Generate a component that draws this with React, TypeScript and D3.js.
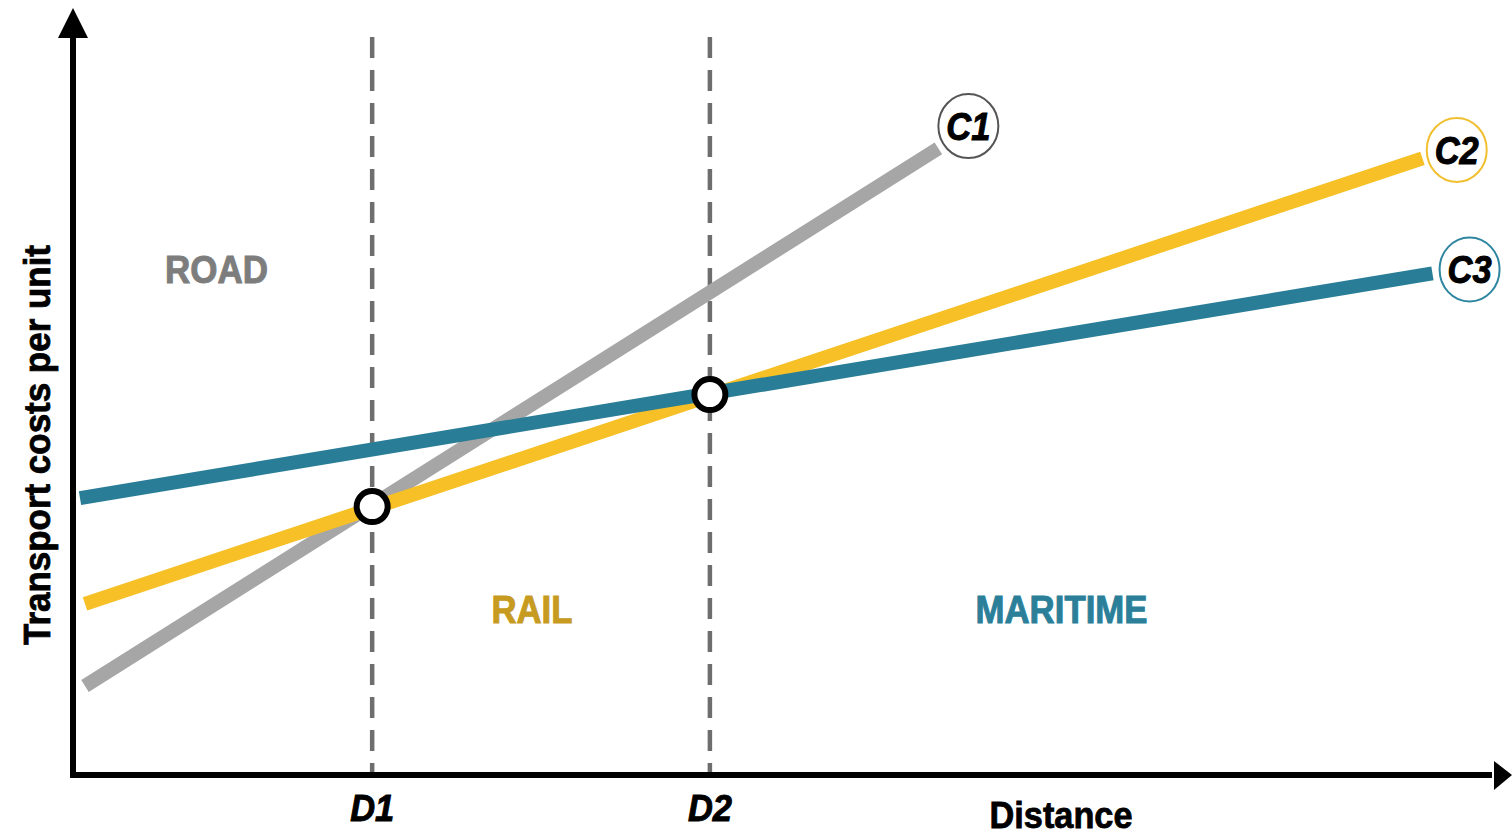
import React from "react";
import * as d3 from "d3";

const W = 1512;
const H = 836;

// Data (distance units 0-100, cost units 0-100)
const breakPoints = [
  { name: "D1", x: 20.95 },
  { name: "D2", x: 44.6 },
];
const seriesNames = ["C1", "C2", "C3"];
const seriesStart = [
  [0.84, 11.6],
  [0.84, 22.3],
  [0.49, 36.1],
];
const seriesEnd = [
  [60.6, 81.7],
  [94.5, 80.4],
  [95.2, 65.4],
];
const seriesColors = ["#a6a6a6", "#f6c026", "#2a7d97"];
const labelStroke = ["#555555", "#f0c030", "#2e86a0"];
const intersections = [
  [20.95, 35.0],
  [44.6, 49.6],
];
const labelPositions = [
  [62.7, 84.6],
  [96.9, 81.5],
  [97.8, 65.9],
];
const zoneLabels = [
  { text: "ROAD", x: 6.44, y: 66, color: "#7d7d7d", width: 103 },
  { text: "RAIL", x: 29.3, y: 21.7, color: "#c69b1f", width: 81 },
  { text: "MARITIME", x: 63.2, y: 21.7, color: "#2b7f99", width: 172 },
];

const FONT = "'Liberation Sans Narrow', 'Arial Narrow', 'Liberation Sans', Arial, sans-serif";

export default function App() {
  const x = d3.scaleLinear().domain([0, 100]).range([73, 1501]);
  const y = d3.scaleLinear().domain([0, 100]).range([775, 8]);
  const line = d3
    .line<number[]>()
    .x((d) => x(d[0]))
    .y((d) => y(d[1]));

  return (
    <svg
      width={W}
      height={H}
      style={{ position: "absolute", left: 0, top: 0, background: "#fff" }}
    >
      {/* dashed verticals */}
      {breakPoints.map((b) => (
        <line
          key={b.name}
          x1={x(b.x)}
          x2={x(b.x)}
          y1={37}
          y2={775}
          stroke="#6e6e6e"
          strokeWidth={4.5}
          strokeDasharray="21 12"
        />
      ))}
      {/* series lines */}
      {seriesNames.map((n, i) => (
        <path
          key={n}
          d={line([seriesStart[i], seriesEnd[i]]) || ""}
          stroke={seriesColors[i]}
          strokeWidth={14}
          fill="none"
          strokeLinecap="butt"
        />
      ))}
      {/* intersection circles */}
      {intersections.map((p, i) => (
        <circle
          key={i}
          cx={x(p[0])}
          cy={y(p[1])}
          r={15.5}
          fill="#fff"
          stroke="#000"
          strokeWidth={6}
        />
      ))}
      {/* series labels */}
      {seriesNames.map((n, i) => (
        <g key={n}>
          <ellipse
            cx={x(labelPositions[i][0])}
            cy={y(labelPositions[i][1])}
            rx={30}
            ry={32}
            fill="#fff"
            stroke={labelStroke[i]}
            strokeWidth={2}
          />
          <text
            x={x(labelPositions[i][0])}
            y={y(labelPositions[i][1])}
            dy="0.36em"
            textAnchor="middle"
            fontFamily={FONT}
            fontWeight="bold"
            fontStyle="italic"
            fontSize={38}
            textLength={44}
            lengthAdjust="spacingAndGlyphs"
            fill="#000"
            stroke="#000"
            strokeWidth={1}
          >
            {n}
          </text>
        </g>
      ))}
      {/* zone labels */}
      {zoneLabels.map((z) => (
        <text
          key={z.text}
          x={x(z.x)}
          y={y(z.y)}
          dy="0.36em"
          fontFamily={FONT}
          fontWeight="bold"
          fontSize={39}
          textLength={z.width}
          lengthAdjust="spacingAndGlyphs"
          fill={z.color}
          stroke={z.color}
          strokeWidth={1}
        >
          {z.text}
        </text>
      ))}
      {/* axes */}
      <line x1={73} x2={73} y1={30} y2={778} stroke="#000" strokeWidth={6} />
      <path d="M73,8 L58,38 L88,38 Z" fill="#000" />
      <line x1={70} x2={1492} y1={775} y2={775} stroke="#000" strokeWidth={6} />
      <path d="M1512,775 L1494,761 L1494,790 Z" fill="#000" />
      {/* x tick labels */}
      {breakPoints.map((b) => (
        <text
          key={b.name}
          x={x(b.x)}
          y={808}
          dy="0.36em"
          textAnchor="middle"
          fontFamily={FONT}
          fontWeight="bold"
          fontStyle="italic"
          fontSize={37}
          textLength={44}
          lengthAdjust="spacingAndGlyphs"
          fill="#000"
          stroke="#000"
          strokeWidth={1}
        >
          {b.name}
        </text>
      ))}
      <text
        x={1061}
        y={815}
        dy="0.36em"
        textAnchor="middle"
        fontFamily={FONT}
        fontWeight="bold"
        fontSize={37}
        textLength={143}
        lengthAdjust="spacingAndGlyphs"
        fill="#000"
        stroke="#000"
        strokeWidth={0.8}
      >
        Distance
      </text>
      <text
        transform="translate(37,445) rotate(-90)"
        textAnchor="middle"
        dy="0.36em"
        fontFamily={FONT}
        fontWeight="bold"
        fontSize={37}
        textLength={400}
        lengthAdjust="spacingAndGlyphs"
        fill="#000"
        stroke="#000"
        strokeWidth={0.8}
      >
        Transport costs per unit
      </text>
    </svg>
  );
}
